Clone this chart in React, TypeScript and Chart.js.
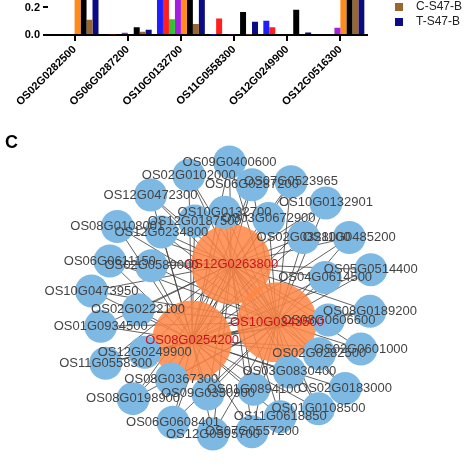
import { useEffect, useRef } from 'react';
import { Chart, registerables } from 'chart.js';

Chart.register(...registerables);

const FONT = '"Liberation Sans", Arial, Helvetica, sans-serif';

// ---------- Bar chart (panel B, cropped) ----------
const categories = ['OS02G0282500', 'OS06G0287200', 'OS10G0132700', 'OS11G0558300', 'OS12G0249900', 'OS12G0516300'];
const seriesNames = ['C-S22-A', 'T-S22-A', 'C-S22-B', 'T-S22-B', 'C-S47-A', 'T-S47-A', 'C-S47-B', 'T-S47-B'];
const seriesColors = ['#1e1eff', '#ff1f1f', '#33c233', '#a51fe0', '#ff8c1a', '#000000', '#9a6630', '#0b0b85'];
const valsCS22A = [0, 0, 0.62, 0.004, 0.103, 0];
const valsTS22A = [0, 0.006, 0.48, 0.12, 0.057, 0];
const valsCS22B = [0, 0, 0.115, 0, 0, 0];
const valsTS22B = [0, 0.016, 0.55, 0.005, 0, 0.053];
const valsCS47A = [0.71, 0, 0.66, 0, 0, 0.58];
const valsTS47A = [0.63, 0.057, 0.52, 0.168, 0.184, 0.5];
const valsCS47B = [0.11, 0.023, 0.08, 0.003, 0, 0.47];
const valsTS47B = [0.6, 0.039, 0.45, 0.097, 0.018, 0.45];
const seriesValues = [valsCS22A, valsTS22A, valsCS22B, valsTS22B, valsCS47A, valsTS47A, valsCS47B, valsTS47B];
const legendShown = ['C-S47-B', 'T-S47-B'];
const yMax = 0.33;
const yStep = 0.2;

// ---------- Network (panel C) ----------
const hubNames = ['OS12G0263800', 'OS08G0254200', 'OS10G0343500'];
const hubX = [230, 183, 285];
const hubY = [258, 355, 332];

const geneNames = [
  'OS09G0400600', 'OS02G0102000', 'OS06G0287200', 'OS07G0523965', 'OS10G0132901',
  'OS12G0472300', 'OS10G0132700', 'OS12G0187500', 'OS08G0108001', 'OS12G0234800',
  'OS03G0672900', 'OS02G0328000', 'OS11G0485200', 'OS06G0611150', 'OS02G0589000',
  'OS10G0473950', 'OS02G0222100', 'OS01G0934500', 'OS05G0514400', 'OS04G0614500',
  'OS08G0189200', 'OS08G0606600', 'OS12G0249900', 'OS11G0558300', 'OS08G0367300',
  'OS08G0198900', 'OS09G0350900', 'OS06G0608401', 'OS12G0595700', 'OS02G0282500',
  'OS02G0601000', 'OS03G0830400', 'OS02G0183000', 'OS01G0894100', 'OS01G0108500',
  'OS11G0618850', 'OS07G0557200',
];
const geneX = [
  228, 179, 255, 302, 344,
  133, 222, 186, 93, 146,
  275, 317, 372, 84, 134,
  62, 118, 73, 398, 343,
  397, 347, 126, 79, 158,
  112, 202, 160, 208, 336,
  386, 300, 367, 257, 335,
  289, 255,
];
const geneY = [
  128, 145, 157, 153, 180,
  170, 192, 203, 210, 217,
  200, 224, 224, 254, 260,
  292, 316, 337, 265, 275,
  318, 329, 370, 384, 404,
  429, 423, 459, 474, 372,
  366, 395, 416, 417, 442,
  452, 471,
];
const hubPairs = [[0, 1], [0, 2], [1, 2]];

export default function App() {
  const barRef = useRef<HTMLCanvasElement>(null);
  const netRef = useRef<HTMLCanvasElement>(null);

  useEffect(() => {
    const legendPlugin = {
      id: 'croppedLegend',
      afterDraw(chart: any) {
        const { ctx, chartArea } = chart;
        ctx.save();
        ctx.font = `12px ${FONT}`;
        ctx.textBaseline = 'middle';
        ctx.textAlign = 'left';
        legendShown.forEach((name, i) => {
          const idx = seriesNames.indexOf(name);
          const cy = chartArea.bottom - 28 + i * 15;
          const bx = chartArea.right + 28;
          ctx.fillStyle = seriesColors[idx];
          ctx.fillRect(bx, cy - 4, 8, 8);
          ctx.fillStyle = '#222';
          ctx.fillText(name, bx + 21, cy);
        });
        ctx.restore();
      },
    };

    const bar = new Chart(barRef.current!, {
      type: 'bar',
      data: {
        labels: categories,
        datasets: seriesNames.map((n, i) => ({
          label: n,
          data: seriesValues[i],
          backgroundColor: seriesColors[i],
          borderWidth: 0,
          categoryPercentage: 0.9,
          barPercentage: 1,
        })),
      },
      options: {
        animation: false,
        responsive: false,
        devicePixelRatio: 1,
        events: [],
        layout: { padding: { left: 0, right: 107, top: 0, bottom: 0 } },
        plugins: { legend: { display: false }, tooltip: { enabled: false } },
        scales: {
          x: {
            offset: true,
            grid: { display: true, drawOnChartArea: false, drawTicks: true, tickLength: 6, offset: false, color: '#000', lineWidth: 2 },
            border: { display: true, color: '#000', width: 2 },
            ticks: { autoSkip: false, minRotation: 45, maxRotation: 45, color: '#000', padding: 2, font: { family: FONT, size: 11, weight: 'bold' } },
            afterFit: (s: any) => { s.height = 77; },
          },
          y: {
            min: 0,
            max: yMax,
            grid: { display: true, drawOnChartArea: false, drawTicks: true, tickLength: 5, color: '#000', lineWidth: 2 },
            border: { display: false },
            ticks: {
              stepSize: yStep,
              color: '#000',
              padding: 3,
              font: { family: FONT, size: 11, weight: 'bold' },
              callback: (v: any) => Number(v).toFixed(1),
            },
            afterBuildTicks: (s: any) => {
              s.ticks = s.ticks.filter((t: any) => Math.abs(t.value / yStep - Math.round(t.value / yStep)) < 1e-6);
            },
            afterFit: (s: any) => { s.width = 48; },
          },
        },
      } as any,
      plugins: [legendPlugin],
    });

    const edgePoints: any[] = [];
    geneNames.forEach((_, i) => {
      hubNames.forEach((__, h) => {
        edgePoints.push({ x: geneX[i], y: geneY[i] }, { x: hubX[h], y: hubY[h] }, { x: NaN, y: NaN });
      });
    });
    hubPairs.forEach(([a, b]) => {
      edgePoints.push({ x: hubX[a], y: hubY[a] }, { x: hubX[b], y: hubY[b] }, { x: NaN, y: NaN });
    });

    const labelPlugin = {
      id: 'nodeLabels',
      afterDatasetsDraw(chart: any) {
        const { ctx, scales } = chart;
        ctx.save();
        ctx.font = `13px ${FONT}`;
        ctx.textAlign = 'center';
        ctx.textBaseline = 'middle';
        ctx.fillStyle = '#444';
        geneNames.forEach((n, i) => {
          ctx.fillText(n, scales.x.getPixelForValue(geneX[i]), scales.y.getPixelForValue(geneY[i]));
        });
        ctx.fillStyle = '#c8141e';
        hubNames.forEach((n, i) => {
          ctx.fillText(n, scales.x.getPixelForValue(hubX[i]), scales.y.getPixelForValue(hubY[i]));
        });
        ctx.restore();
      },
    };

    const net = new Chart(netRef.current!, {
      type: 'scatter',
      data: {
        datasets: [
          {
            label: 'edges',
            data: edgePoints,
            showLine: true,
            spanGaps: false,
            borderColor: 'rgba(60,60,60,0.8)',
            borderWidth: 1,
            pointRadius: 0,
            order: 3,
            clip: false,
          },
          {
            label: 'hubs',
            data: hubNames.map((_, i) => ({ x: hubX[i], y: hubY[i] })),
            pointRadius: 40,
            pointBackgroundColor: 'rgba(255,135,70,0.86)',
            pointBorderWidth: 0,
            order: 2,
            clip: false,
          },
          {
            label: 'genes',
            data: geneNames.map((_, i) => ({ x: geneX[i], y: geneY[i] })),
            pointRadius: 16.5,
            pointBackgroundColor: '#7db9e3',
            pointBorderWidth: 0,
            order: 1,
            clip: false,
          },
        ],
      },
      options: {
        animation: false,
        responsive: false,
        devicePixelRatio: 1,
        events: [],
        layout: { padding: 0 },
        plugins: { legend: { display: false }, tooltip: { enabled: false } },
        scales: {
          x: { type: 'linear', min: 0, max: 474, display: false },
          y: { type: 'linear', min: 100, max: 474, reverse: true, display: false },
        },
      } as any,
      plugins: [labelPlugin],
    });

    return () => {
      bar.destroy();
      net.destroy();
    };
  }, []);

  return (
    <div style={{ position: 'fixed', left: 0, top: 0, width: 474, height: 474, overflow: 'hidden', background: '#fff' }}>
      <canvas ref={barRef} width={474} height={132} style={{ position: 'absolute', left: 0, top: -20 }} />
      <canvas ref={netRef} width={474} height={374} style={{ position: 'absolute', left: 0, top: 100 }} />
      <div style={{ position: 'absolute', left: 5, top: 133, font: `bold 18px/18px ${FONT}`, color: '#000' }}>C</div>
    </div>
  );
}
